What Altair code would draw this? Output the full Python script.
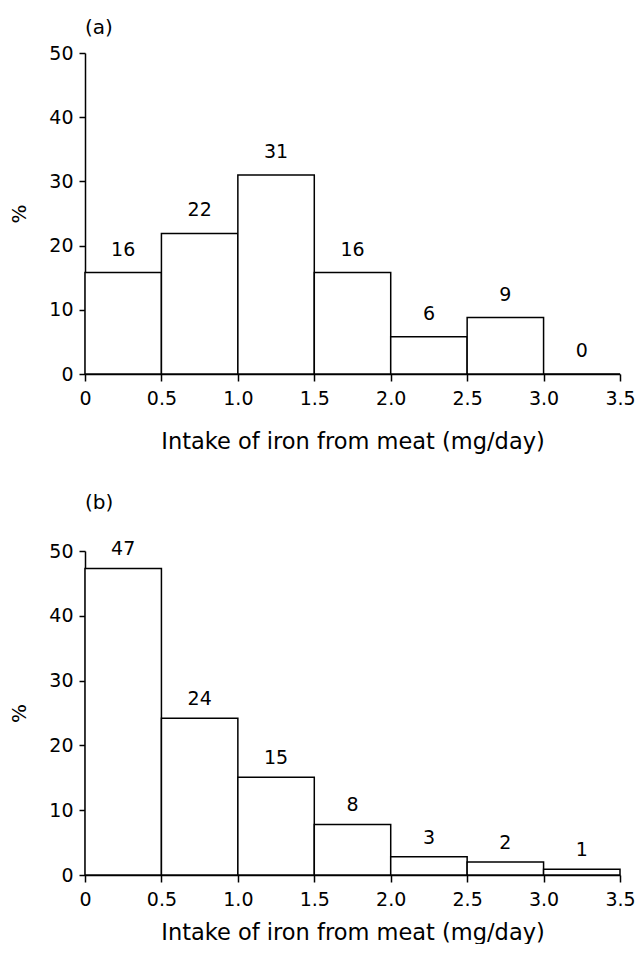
import altair as alt
import pandas as pd

bin_start = [0.0, 0.5, 1.0, 1.5, 2.0, 2.5, 3.0]
bin_end = [0.5, 1.0, 1.5, 2.0, 2.5, 3.0, 3.5]

a_values = [15.8, 21.9, 31.0, 15.8, 5.8, 8.8, 0.0]
a_labels = ["16", "22", "31", "16", "6", "9", "0"]

b_values = [47.3, 24.2, 15.1, 7.8, 2.8, 2.0, 0.9]
b_labels = ["47", "24", "15", "8", "3", "2", "1"]

x_ticks = [0, 0.5, 1.0, 1.5, 2.0, 2.5, 3.0, 3.5]
y_ticks = [0, 10, 20, 30, 40, 50]

FONT = "DejaVu Sans"
x_title = "Intake of iron from meat (mg/day)"


def panel(values, labels, tag, dy, title_offset, height, x_title_pad):
    df = pd.DataFrame({"start": bin_start, "end": bin_end, "pct": values,
                       "label": labels})
    df["mid"] = (df["start"] + df["end"]) / 2
    xs = alt.Scale(domain=[0, 3.5], nice=False, zero=False)
    ys = alt.Scale(domain=[0, 50], nice=False)
    xaxis = alt.Axis(values=x_ticks, title=x_title,
                     labelExpr="datum.value == 0 ? '0' : format(datum.value, '.1f')",
                     grid=False, tickSize=7, labelPadding=8,
                     titlePadding=x_title_pad,
                     labelFont=FONT, labelFontSize=19, titleFont=FONT,
                     titleFontSize=22.5, titleFontWeight="normal",
                     domainColor="black", tickColor="black", domainWidth=1.5,
                     tickWidth=1.5, labelColor="black", titleColor="black",
                     labelFlush=False)
    yaxis = alt.Axis(values=y_ticks, title="%", grid=False, tickSize=6,
                     labelPadding=6, titlePadding=19, labelFont=FONT,
                     labelFontSize=19, titleFont=FONT, titleFontSize=20,
                     titleFontWeight="normal", domainColor="black",
                     tickColor="black", domainWidth=1.5, tickWidth=1.5,
                     labelColor="black", titleColor="black")
    bars = alt.Chart(df).mark_rect(fill="white", stroke="black",
                                   strokeWidth=1.5).encode(
        x=alt.X("start:Q", scale=xs, axis=xaxis),
        x2="end:Q",
        y=alt.Y("pct:Q", scale=ys, axis=yaxis),
        y2=alt.datum(0),
    )
    text = alt.Chart(df).mark_text(font=FONT, fontSize=19, color="black",
                                   baseline="middle", dy=dy).encode(
        x=alt.X("mid:Q", scale=xs),
        y=alt.Y("pct:Q", scale=ys),
        text="label:N",
    )
    return alt.layer(bars, text).properties(
        width=535, height=height,
        title=alt.TitleParams(tag, anchor="start", frame="group", font=FONT,
                              fontSize=20, fontWeight="normal", color="black",
                              offset=title_offset),
    )


pa = panel(a_values, a_labels, "(a)", -23, 6, 321, 22)
pb = panel(b_values, b_labels, "(b)", -19, 27, 324, 12)

chart = alt.vconcat(pa, pb, spacing=40).properties(
    padding={"left": 1, "top": 10, "right": 0, "bottom": 0},
    background="white",
).configure_view(strokeWidth=0)

chart.save("out.html", embed_options={"renderer": "svg", "actions": False})
